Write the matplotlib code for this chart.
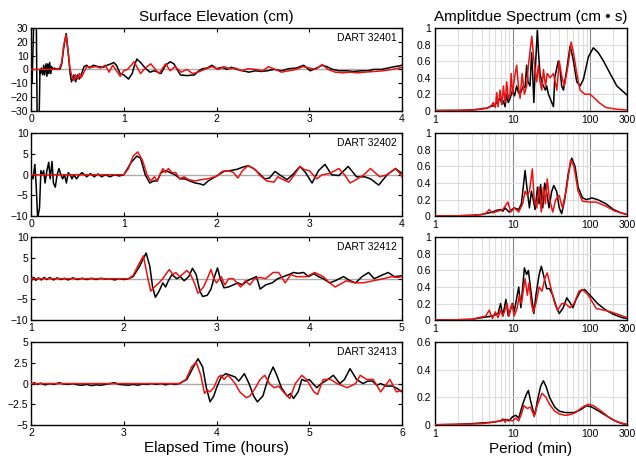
import matplotlib
matplotlib.use("Agg")
import matplotlib.pyplot as plt
from matplotlib.ticker import FixedLocator, FuncFormatter, NullFormatter
import numpy as np

plt.rcParams['font.family'] = ['Liberation Sans', 'DejaVu Sans']

stations = ["DART 32401", "DART 32402", "DART 32412", "DART 32413"]
time_ranges = [(0, 4), (0, 4), (1, 5), (2, 6)]
elev_limits = [30, 10, 10, 5]
elev_steps = [10, 5, 5, 2.5]
spec_limits = [1.0, 1.0, 1.0, 0.6]
period_ticks = [1, 10, 100, 300]

# surface elevation, (hours, cm) -- black = observed, red = model
obs_32401 = [(0, 0), (0.01, -10), (0.03, 40), (0.055, 40), (0.065, -40), (0.085, -40), (0.095, 0),
             (0.1, -3), (0.11, 1), (0.125, -4), (0.135, 3), (0.145, -4), (0.16, 4), (0.17, -5),
             (0.18, 4), (0.19, -3), (0.2, 5), (0.21, -3), (0.22, 2), (0.235, 0), (0.25, 1),
             (0.27, 0), (0.29, 0.5), (0.31, 0), (0.33, 4), (0.35, 15), (0.378, 26), (0.40, 12),
             (0.42, -3), (0.435, -9), (0.46, -4), (0.48, -9), (0.50, -4), (0.52, -7), (0.55, -2),
             (0.57, 2), (0.60, 3), (0.63, 1), (0.67, 3), (0.72, 2), (0.78, 1.5), (0.82, 3),
             (0.86, 4), (0.89, 5), (0.92, 3), (0.96, -3), (1.0, -4), (1.05, -7), (1.09, -3),
             (1.11, 2), (1.14, 7.5), (1.18, 5), (1.23, 1), (1.28, -2), (1.33, -1), (1.40, -3),
             (1.45, 3), (1.50, 5.5), (1.54, 4), (1.61, -4), (1.68, -4.5), (1.76, -4), (1.81, -1),
             (1.85, 0.5), (1.90, 1), (1.95, 3), (2.0, 0.5), (2.06, 1.5), (2.11, 0), (2.16, 1.5),
             (2.22, 0), (2.28, -1), (2.35, -2), (2.42, -1), (2.48, -1.5), (2.55, -1), (2.62, 0),
             (2.70, -1), (2.78, 0.5), (2.86, 1), (2.94, 3), (3.01, -1), (3.08, 1), (3.14, 3),
             (3.19, 2), (3.25, 0), (3.32, -1), (3.40, -1), (3.48, -1.5), (3.56, -1), (3.63, -1),
             (3.70, 0), (3.78, 0), (3.85, 1), (3.92, 2), (3.97, 2.5), (4.0, 3)]
mod_32401 = [(0, 0), (0.30, 0), (0.33, 5), (0.35, 17), (0.375, 25), (0.40, 12), (0.42, 0),
             (0.44, -5), (0.46, -8), (0.48, -4), (0.50, -7), (0.52, -3), (0.54, -6), (0.57, -2),
             (0.60, 2), (0.65, 1.5), (0.70, 2), (0.75, 1), (0.80, 3), (0.84, -2), (0.88, 3),
             (0.92, -1), (0.96, -5), (1.0, -1), (1.04, 0), (1.11, 5.5), (1.18, -3), (1.23, 1),
             (1.29, 4), (1.34, 0), (1.38, -3), (1.45, 4), (1.50, -1), (1.55, 2), (1.62, -2),
             (1.68, 0), (1.74, -3), (1.80, -2), (1.87, 0), (1.95, 2), (2.02, 0), (2.08, 2),
             (2.14, 0.5), (2.20, 1), (2.27, -1), (2.34, 0.5), (2.42, 0), (2.50, -1), (2.56, 2),
             (2.63, 0), (2.70, -2), (2.78, -1), (2.86, 0), (2.93, 2), (3.0, 1), (3.07, 0),
             (3.14, 3.5), (3.20, 0), (3.28, -2), (3.36, -2.5), (3.44, -2), (3.52, -2.5),
             (3.60, -2), (3.70, -1.5), (3.80, -1), (3.90, 0), (4.0, 1.5)]

obs_32402 = [(0, 0), (0.02, -1), (0.04, 2.5), (0.055, -3), (0.07, -10.5), (0.09, -8), (0.105, 1),
             (0.12, 0), (0.135, 1), (0.15, -2), (0.17, 1), (0.19, 3), (0.205, -1), (0.225, 3.2),
             (0.24, -2), (0.26, -3), (0.28, 0), (0.30, 1.5), (0.32, 0), (0.34, -1), (0.36, 0),
             (0.38, -2), (0.40, 0.5), (0.42, 0), (0.44, -1), (0.46, 0), (0.49, -1), (0.52, 0),
             (0.55, 0.5), (0.60, -0.5), (0.64, 0.3), (0.68, -0.5), (0.72, 0.2), (0.76, -0.5),
             (0.80, 0), (0.85, -0.5), (0.90, 0), (0.95, -0.3), (1.0, 0), (1.08, 3), (1.14, 4.5),
             (1.18, 4), (1.23, 0), (1.28, -2), (1.32, -1.5), (1.36, -1.5), (1.40, 0.5), (1.45, 1),
             (1.50, 0.5), (1.55, 0), (1.61, -1), (1.66, -1), (1.71, -1.5), (1.77, -2), (1.82, -2.2),
             (1.86, -2.5), (1.91, -1.5), (2.0, -0.3), (2.08, 0.8), (2.15, 1), (2.22, 1.3),
             (2.28, 1.8), (2.34, 2.2), (2.40, 1.5), (2.45, 0.5), (2.52, -1), (2.57, -0.8),
             (2.63, 0.8), (2.68, 0), (2.76, -1.2), (2.82, 0), (2.90, 2), (2.96, 0.5), (3.03, -2),
             (3.10, 1), (3.17, 2.5), (3.24, 0), (3.32, -0.2), (3.42, 2), (3.51, -0.5), (3.60, -0.5),
             (3.66, -1), (3.75, -2.5), (3.84, 0), (3.93, 1.5), (4.0, 0.3)]
mod_32402 = [(0, 0), (1.0, 0), (1.05, 1.5), (1.10, 4.5), (1.15, 5.5), (1.20, 3.5), (1.25, 0),
             (1.29, -1.5), (1.33, -0.5), (1.36, -1.5), (1.40, 0.5), (1.42, 1.5), (1.45, 0.5),
             (1.48, 1.5), (1.52, 0.5), (1.56, 0.5), (1.60, -1), (1.65, -0.5), (1.70, -1.2),
             (1.77, -1.5), (1.83, -1.2), (1.90, -1), (2.0, -0.4), (2.06, 0.8), (2.12, 1),
             (2.18, 0.6), (2.23, -0.8), (2.28, 1), (2.34, 2.2), (2.42, 1.2), (2.46, 0),
             (2.54, -1.5), (2.62, -1.8), (2.66, -0.5), (2.72, -1.2), (2.78, -1.8), (2.84, 0),
             (2.90, 2), (2.95, 1.2), (3.0, 1), (3.08, -1), (3.14, 0), (3.22, 0.3), (3.32, 1.5),
             (3.38, 0), (3.44, -2), (3.52, -1), (3.59, 0), (3.66, 1.5), (3.71, 0.5), (3.76, -0.5),
             (3.84, 0), (3.93, 1.5), (3.97, 0.5), (4.0, -0.5)]

obs_32412 = [(1.0, 1), (1.01, -0.3), (1.03, 0.3), (1.05, -0.4), (1.08, 0.2), (1.11, -0.3),
             (1.14, 0.3), (1.17, -0.2), (1.2, 0.3), (1.24, -0.3), (1.28, 0.2), (1.32, -0.2),
             (1.36, 0.1), (1.40, -0.3), (1.45, 0.2), (1.5, -0.2), (1.55, 0.1), (1.6, -0.2),
             (1.65, 0.1), (1.7, -0.2), (1.75, 0.1), (1.8, -0.1), (1.85, 0), (1.9, -0.3), (1.95, 0),
             (2.0, -0.2), (2.05, 0), (2.1, 0.5), (2.17, 3), (2.24, 6.2), (2.28, 3), (2.31, -2),
             (2.34, -4.5), (2.38, -3), (2.42, -1), (2.45, -2), (2.48, -0.5), (2.52, 1), (2.57, 0),
             (2.61, 0.5), (2.65, -0.5), (2.70, 0.5), (2.74, 2.5), (2.78, 1), (2.82, -3),
             (2.85, -4.3), (2.90, -4), (2.94, -2.5), (2.97, 0), (3.01, 2.6), (3.04, 0), (3.08, -2.2),
             (3.13, -2), (3.18, -1.5), (3.23, -1), (3.28, -1.5), (3.33, -0.5), (3.38, 0),
             (3.43, 0.5), (3.47, -2.5), (3.53, -1.5), (3.60, -1), (3.66, 0), (3.72, 0.5), (3.78, 1),
             (3.83, 1.5), (3.88, 1.3), (3.94, 1.5), (3.99, 0.5), (4.05, 1.2), (4.1, 0.5), (4.15, 0),
             (4.22, -1), (4.28, -0.5), (4.37, 0.5), (4.44, -0.5), (4.50, -1), (4.57, 0.5),
             (4.64, 1.5), (4.70, 0), (4.78, 0.8), (4.85, 1.5), (4.92, 0.5), (5.0, 0.7)]
mod_32412 = [(1.0, 0), (2.05, 0), (2.10, 0.8), (2.15, 3), (2.21, 5.5), (2.26, 0), (2.29, -3),
             (2.33, -2), (2.38, -1), (2.42, 0), (2.45, 1), (2.49, 2.2), (2.53, 1), (2.56, 1.5),
             (2.60, 0.5), (2.63, 1), (2.68, 2), (2.72, 1), (2.76, -1), (2.80, -3.5), (2.86, -2),
             (2.90, 0), (2.94, 2.2), (2.97, 0), (3.0, -1), (3.05, 0.5), (3.09, -1.5), (3.13, 0),
             (3.18, 0), (3.26, -2), (3.31, -0.5), (3.36, -1.5), (3.41, 0), (3.47, 0.3), (3.53, 0),
             (3.61, 1.5), (3.67, 1.5), (3.74, -1), (3.80, 1), (3.86, 0.5), (3.97, 0.5), (4.06, 1.5),
             (4.15, 0.5), (4.22, -1), (4.28, -2), (4.36, -1), (4.40, -0.5), (4.49, -1), (4.58, -1),
             (4.69, -0.5), (4.80, 0), (4.89, 0.5), (4.95, 0.3), (5.0, 0.5)]

obs_32413 = [(2.0, -0.1), (2.03, 0.1), (2.07, -0.1), (2.1, 0.05), (2.15, -0.15), (2.2, 0),
             (2.25, -0.1), (2.3, 0.1), (2.35, -0.05), (2.4, -0.1), (2.45, 0), (2.5, -0.15),
             (2.55, -0.2), (2.6, -0.1), (2.65, -0.25), (2.7, -0.15), (2.75, -0.2), (2.8, -0.1),
             (2.85, 0), (2.9, 0.1), (2.95, -0.1), (3.0, -0.15), (3.05, -0.2), (3.1, -0.1),
             (3.15, -0.2), (3.2, -0.05), (3.25, -0.1), (3.3, 0), (3.35, -0.1), (3.4, 0),
             (3.45, -0.15), (3.5, 0), (3.55, -0.1), (3.6, 0), (3.68, 0.5), (3.75, 2), (3.80, 3),
             (3.85, 2), (3.89, -0.5), (3.93, -2.2), (3.97, -1.5), (4.0, -0.5), (4.05, 0.8),
             (4.1, 1.2), (4.15, 1), (4.2, 0.8), (4.24, 0.3), (4.3, 1.2), (4.35, 0), (4.4, -1.5),
             (4.44, -2.2), (4.5, -1.5), (4.54, 0), (4.57, 1), (4.61, 2), (4.65, 1), (4.70, -0.5),
             (4.76, -1.5), (4.80, -1.2), (4.83, -1.8), (4.88, -1), (4.92, 0.5), (4.96, 0.3),
             (5.0, 0.5), (5.04, 0), (5.08, -0.5), (5.13, 0), (5.2, 0.5), (5.26, 1), (5.33, 0),
             (5.38, 0.5), (5.44, 1.8), (5.51, 0.5), (5.58, 0), (5.63, 0.3), (5.68, 0.3),
             (5.73, -0.2), (5.77, 0), (5.83, -0.3), (5.90, -0.3), (5.95, -0.6), (6.0, -1)]
mod_32413 = [(2.0, 0), (3.6, 0), (3.67, 0.5), (3.73, 2), (3.78, 2.6), (3.83, 1), (3.87, -1.2),
             (3.9, -0.8), (3.93, -1), (3.97, -0.5), (4.02, 0.8), (4.05, 1), (4.08, 0.5), (4.12, 1),
             (4.15, 0.7), (4.2, 0), (4.25, -1), (4.32, -1.7), (4.36, -1.5), (4.42, -0.5),
             (4.47, 0.5), (4.52, 1), (4.57, 0), (4.62, -0.5), (4.67, -0.3), (4.72, -1), (4.79, -1.8),
             (4.85, 0), (4.92, 1), (4.97, 0.5), (5.05, -1), (5.09, -1.3), (5.15, 0.5), (5.23, 0.5),
             (5.30, 0), (5.41, -0.5), (5.50, 0), (5.55, 1), (5.62, 0.5), (5.69, 0.5), (5.77, -1),
             (5.87, 0.5), (5.94, -1), (6.0, -0.8)]

# amplitude spectra, (period min, cm s)
obs_spec_32401 = [(1, 0.003), (1.5, 0.005), (2, 0.005), (2.5, 0.008), (2.83, 0.01), (3.3, 0.015),
                  (3.8, 0.02), (4.2, 0.03), (4.64, 0.03), (5.1, 0.05), (5.66, 0.06), (6.25, 0.1),
                  (6.9, 0.15), (7.3, 0.08), (7.62, 0.12), (8.0, 0.05), (8.41, 0.2), (8.8, 0.1),
                  (9.28, 0.15), (10, 0.25), (10.6, 0.18), (11.3, 0.3), (11.9, 0.22), (12.5, 0.2),
                  (13.1, 0.25), (13.8, 0.3), (14.5, 0.28), (15.2, 0.55), (15.8, 0.35), (16.8, 0.3),
                  (17.6, 0.7), (18.1, 0.5), (18.8, 0.1), (19.6, 0.5), (20.9, 0.97), (21.6, 0.7),
                  (22.6, 0.45), (23.8, 0.35), (25, 0.3), (26.5, 0.25), (27.6, 0.3), (29, 0.2),
                  (30.5, 0.15), (32, 0.1), (33.7, 0.05), (35, 0.4), (38.8, 0.6), (41, 0.5),
                  (43, 0.3), (45.3, 0.25), (50, 0.5), (55.2, 0.78), (58, 0.7), (61, 0.6),
                  (67.3, 0.35), (74.3, 0.3), (82, 0.38), (95, 0.65), (110, 0.76), (128, 0.7),
                  (149, 0.6), (181, 0.45), (221, 0.3), (300, 0.19)]
mod_spec_32401 = [(1, 0.003), (2, 0.005), (3, 0.01), (3.8, 0.02), (4.64, 0.03), (5.3, 0.06),
                  (5.66, 0.1), (6.0, 0.04), (6.25, 0.22), (6.5, 0.05), (6.9, 0.25), (7.3, 0.08),
                  (7.62, 0.3), (8.0, 0.1), (8.41, 0.35), (8.8, 0.15), (9.28, 0.2), (9.6, 0.45),
                  (10, 0.2), (10.6, 0.4), (11.3, 0.55), (11.9, 0.3), (12.5, 0.15), (13.3, 0.45),
                  (14.2, 0.2), (15.2, 0.3), (16, 0.55), (17.7, 0.9), (18.9, 0.6), (20.5, 0.35),
                  (21.5, 0.55), (22.6, 0.35), (23.8, 0.25), (25, 0.5), (26.6, 0.3), (28, 0.45),
                  (30.5, 0.4), (33.7, 0.45), (37.2, 0.25), (40, 0.6), (43.5, 0.4), (46.5, 0.3),
                  (52, 0.55), (57, 0.83), (61, 0.7), (67.3, 0.45), (74.3, 0.25), (85, 0.2),
                  (100, 0.2), (115, 0.15), (130, 0.1), (160, 0.04), (220, 0.02), (300, 0.01)]

obs_spec_32402 = [(1, 0.002), (2, 0.005), (3, 0.01), (4, 0.02), (5.5, 0.05), (6.2, 0.07), (7, 0.08),
                  (7.5, 0.06), (8, 0.1), (9, 0.05), (10.5, 0.1), (12, 0.08), (13, 0.15),
                  (14.5, 0.55), (15.5, 0.3), (16.5, 0.1), (17.5, 0.3), (18.5, 0.2), (19.5, 0.08),
                  (21, 0.35), (22, 0.15), (23, 0.38), (24.5, 0.1), (26, 0.4), (28, 0.25),
                  (29.5, 0.1), (32, 0.3), (34, 0.37), (37, 0.3), (40, 0.1), (43, 0.03), (47, 0.2),
                  (52, 0.5), (58, 0.7), (64, 0.6), (70, 0.35), (80, 0.22), (90, 0.2), (105, 0.22),
                  (125, 0.2), (160, 0.15), (200, 0.08), (250, 0.04), (300, 0.02)]
mod_spec_32402 = [(1, 0.002), (2, 0.005), (3, 0.01), (4, 0.02), (4.6, 0.04), (5, 0.08), (5.5, 0.04),
                  (6.5, 0.06), (7.5, 0.08), (8.7, 0.17), (9.5, 0.05), (10.5, 0.1), (12, 0.05),
                  (13.5, 0.15), (14.5, 0.3), (15.5, 0.25), (16.5, 0.3), (18, 0.57), (19, 0.2),
                  (20.5, 0.1), (22, 0.35), (23.5, 0.05), (25, 0.35), (26.5, 0.15), (28, 0.45),
                  (30, 0.2), (33, 0.05), (36, 0.2), (40, 0.25), (44, 0.1), (50, 0.35), (56, 0.68),
                  (62, 0.6), (70, 0.3), (80, 0.18), (100, 0.17), (120, 0.17), (160, 0.12),
                  (210, 0.06), (300, 0.02)]

obs_spec_32412 = [(1, 0.002), (2, 0.005), (3, 0.01), (4, 0.03), (5.5, 0.05), (6.5, 0.08), (7, 0.2),
                  (7.5, 0.05), (8.2, 0.25), (8.8, 0.05), (10, 0.2), (10.5, 0.1), (12, 0.4),
                  (12.8, 0.15), (14.2, 0.63), (15.2, 0.55), (16, 0.6), (17.5, 0.3), (18.8, 0.08),
                  (20, 0.3), (22, 0.55), (23.5, 0.65), (25, 0.55), (27.5, 0.38), (30, 0.38),
                  (33, 0.3), (37, 0.15), (40, 0.08), (45, 0.15), (50, 0.27), (56, 0.2), (60, 0.15),
                  (66, 0.25), (75, 0.35), (85, 0.37), (100, 0.3), (125, 0.2), (160, 0.12),
                  (200, 0.07), (260, 0.03), (300, 0.02)]
mod_spec_32412 = [(1, 0.002), (2, 0.005), (3, 0.01), (4.5, 0.05), (5, 0.12), (5.5, 0.02), (6, 0.1),
                  (6.5, 0.03), (7, 0.12), (7.5, 0.05), (8.5, 0.2), (9, 0.05), (9.8, 0.2),
                  (10.5, 0.05), (11.5, 0.15), (12.2, 0.3), (13, 0.2), (14.5, 0.5), (15.5, 0.3),
                  (16.3, 0.45), (17.5, 0.2), (18.5, 0.1), (20, 0.2), (22, 0.4), (24, 0.35),
                  (26, 0.5), (28, 0.57), (31, 0.4), (35, 0.2), (38, 0.12), (43, 0.2), (48, 0.2),
                  (55, 0.15), (62, 0.2), (72, 0.35), (80, 0.37), (95, 0.3), (120, 0.14),
                  (170, 0.11), (230, 0.07), (300, 0.03)]

obs_spec_32413 = [(1, 0.002), (2, 0.005), (3, 0.01), (4, 0.015), (5.5, 0.02), (7, 0.03), (8, 0.04),
                  (9, 0.03), (10, 0.06), (11, 0.07), (12, 0.05), (13.5, 0.15), (15, 0.22),
                  (16, 0.25), (17, 0.18), (18.5, 0.1), (19.5, 0.08), (21, 0.18), (23, 0.28),
                  (25, 0.32), (27, 0.28), (30, 0.2), (35, 0.13), (40, 0.1), (48, 0.09), (55, 0.09),
                  (62, 0.09), (75, 0.11), (90, 0.14), (105, 0.13), (130, 0.1), (170, 0.06),
                  (210, 0.03), (260, 0.01), (300, 0.005)]
mod_spec_32413 = [(1, 0.002), (2, 0.005), (4, 0.01), (5.5, 0.02), (7, 0.03), (7.5, 0.045),
                  (8, 0.02), (8.5, 0.04), (10, 0.03), (11, 0.05), (12, 0.03), (13, 0.08),
                  (14, 0.14), (15.5, 0.12), (17, 0.13), (18.5, 0.08), (19, 0.06), (21, 0.15),
                  (24, 0.23), (27, 0.2), (30, 0.15), (35, 0.1), (40, 0.08), (48, 0.07),
                  (55, 0.075), (65, 0.09), (80, 0.13), (95, 0.15), (110, 0.14), (140, 0.1),
                  (180, 0.05), (230, 0.02), (300, 0.005)]

observed = [obs_32401, obs_32402, obs_32412, obs_32413]
modelled = [mod_32401, mod_32402, mod_32412, mod_32413]
observed_spec = [obs_spec_32401, obs_spec_32402, obs_spec_32412, obs_spec_32413]
modelled_spec = [mod_spec_32401, mod_spec_32402, mod_spec_32412, mod_spec_32413]


def tick_fmt(v, pos):
    if abs(v) < 1e-9:
        return "0"
    return f"{v:g}".replace("-", "\u2212")


fig = plt.figure(figsize=(6.36, 4.58), dpi=100)

bottoms = [0.758, 0.528, 0.301, 0.072]
height = 0.181
red = "#ee1111"

for i in range(4):
    # time series
    ax = fig.add_axes([0.049, bottoms[i], 0.583, height])
    t0, t1 = time_ranges[i]
    lim = elev_limits[i]
    ax.axhline(0, color="#aaaaaa", lw=1.0, zorder=1)
    t, v = np.array(observed[i]).T
    ax.plot(t, v, color="black", lw=1.1, zorder=2)
    t, v = np.array(modelled[i]).T
    ax.plot(t, v, color=red, lw=1.1, zorder=3)
    ax.set_xlim(t0, t1)
    ax.set_ylim(-lim, lim)
    ax.set_xticks(np.arange(t0, t1 + 1))
    ax.set_yticks(np.arange(-lim, lim + 0.01, elev_steps[i]))
    ax.yaxis.set_major_formatter(FuncFormatter(tick_fmt))
    ax.xaxis.set_major_formatter(FuncFormatter(tick_fmt))
    ax.tick_params(direction="in", top=True, right=True, length=3, width=0.8,
                   labelsize=7.5, pad=2)
    for s in ax.spines.values():
        s.set_linewidth(1.0)
    ax.text(0.985, 0.94, stations[i], transform=ax.transAxes, ha="right", va="top",
            fontsize=7.5)
    if i == 0:
        ax.set_title("Surface Elevation (cm)", fontsize=11, pad=5)
    if i == 3:
        ax.set_xlabel("Elapsed Time (hours)", fontsize=11, labelpad=2)

    # spectrum
    sx = fig.add_axes([0.684, bottoms[i], 0.302, height])
    sx.set_xscale("log")
    sx.set_xlim(1, 300)
    sx.set_ylim(0, spec_limits[i])
    sx.xaxis.set_major_locator(FixedLocator(period_ticks))
    sx.xaxis.set_major_formatter(FuncFormatter(tick_fmt))
    minor = [m * d for d in (1, 10, 100) for m in range(2, 10) if m * d < 300]
    sx.xaxis.set_minor_locator(FixedLocator(minor))
    sx.xaxis.set_minor_formatter(NullFormatter())
    sx.set_yticks(np.arange(0, spec_limits[i] + 0.01, 0.2))
    sx.yaxis.set_major_formatter(FuncFormatter(tick_fmt))
    sx.grid(axis="x", which="major", color="#888888", lw=0.8)
    sx.grid(axis="x", which="minor", color="#dddddd", lw=0.8)
    sx.grid(axis="y", which="major", color="#dddddd", lw=0.8)
    sx.set_axisbelow(True)
    sx.tick_params(which="both", length=0, labelsize=7.5, pad=3)
    for s in sx.spines.values():
        s.set_linewidth(1.0)
    p, a = np.array(observed_spec[i]).T
    sx.plot(p, a, color="black", lw=1.1, zorder=2)
    p, a = np.array(modelled_spec[i]).T
    sx.plot(p, a, color=red, lw=1.1, zorder=3)
    if i == 0:
        sx.set_title("Amplitdue Spectrum (cm \u2022 s)", fontsize=11, pad=5)
    if i == 3:
        sx.set_xlabel("Period (min)", fontsize=11, labelpad=2)

fig.savefig("out.png", dpi=100)
